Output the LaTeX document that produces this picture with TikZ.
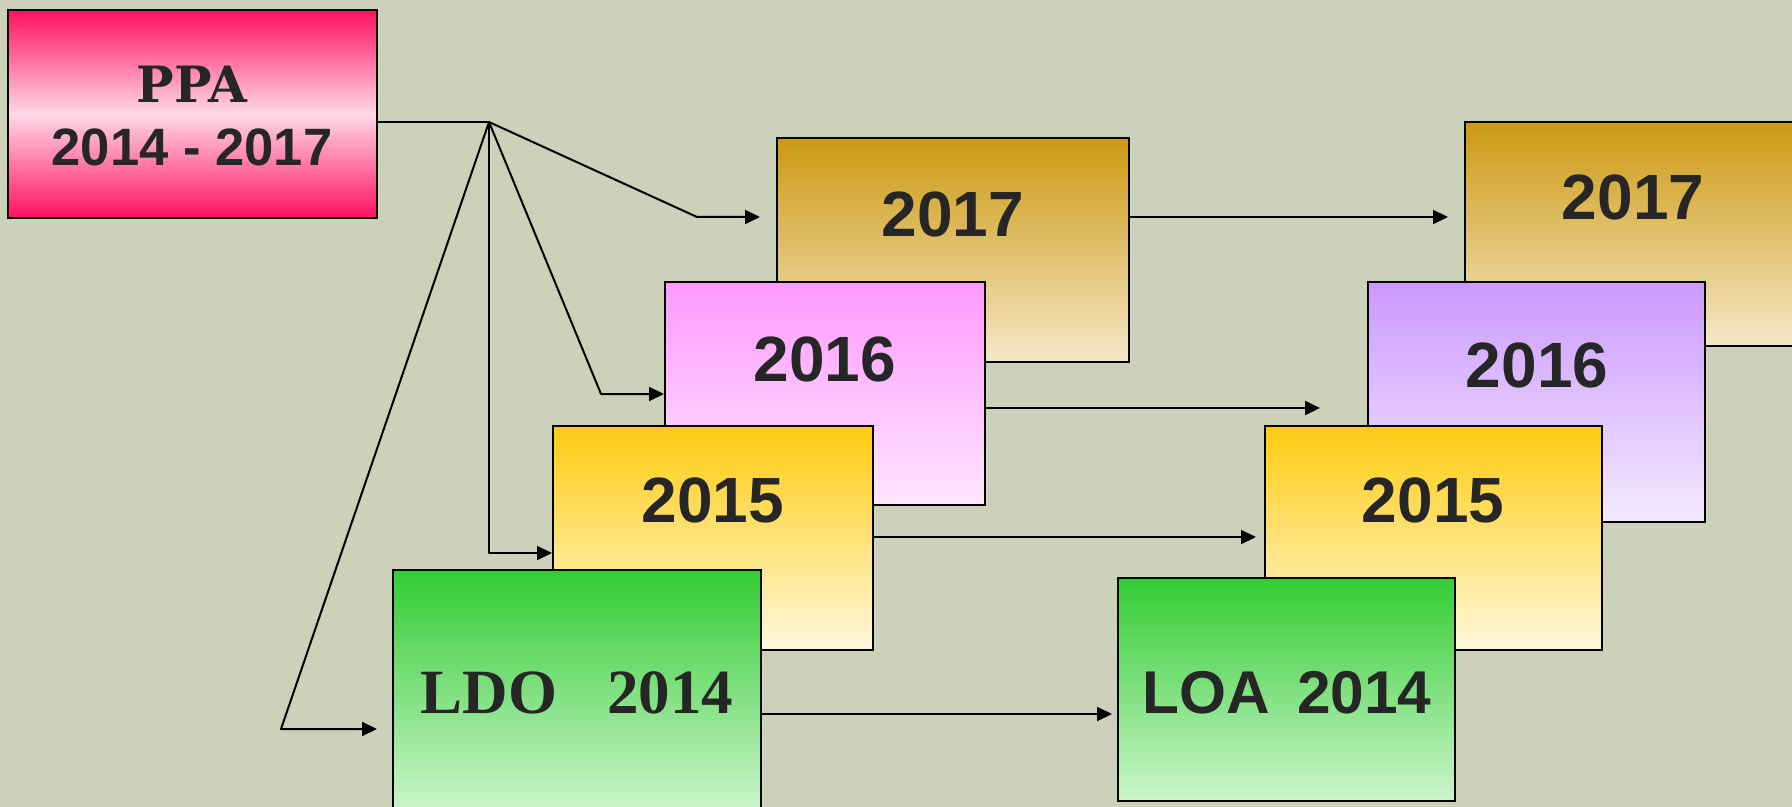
\documentclass[tikz,border=0pt]{standalone}
\usepackage{fontspec}
\setmainfont{Liberation Sans}
\newfontfamily\slabfont{DejaVu Serif}
\newfontfamily\timesfont{Liberation Serif}
\usetikzlibrary{arrows.meta,calc}
\definecolor{bg}{HTML}{CCD1B9}
\definecolor{txt}{HTML}{262626}
\definecolor{pinkdeep}{HTML}{FF1060}
\definecolor{pinklight}{HTML}{FFD9E6}
\definecolor{goldt}{HTML}{CC9911}
\definecolor{goldb}{HTML}{F5E8C8}
\definecolor{magt}{HTML}{FF99FF}
\definecolor{magb}{HTML}{FFE6FF}
\definecolor{lilt}{HTML}{CC99FF}
\definecolor{lilb}{HTML}{F3EAFF}
\definecolor{yelt}{HTML}{FFCC11}
\definecolor{yelb}{HTML}{FFF8DC}
\definecolor{grnt}{HTML}{33CC33}
\definecolor{grnb}{HTML}{CCF5CC}
\begin{document}
\begin{tikzpicture}[x=0.5pt,y=-0.5pt,
  box/.style={draw=black, line width=1pt, inner sep=0pt, shading=axis},
  year/.style={font=\bfseries\fontsize{32}{38}\selectfont, text=txt, inner sep=0pt},
  conn/.style={line width=1pt, line join=round},
  arr/.style={conn, -{Triangle[length=7.5pt,width=7pt]}}]
\useasboundingbox (0,0) rectangle (1792,807);
\fill[bg] (0,0) rectangle (1792,807);
\clip (0,0) rectangle (1792,807);

% PPA
\node[box, top color=pinkdeep, bottom color=pinkdeep, middle color=pinklight,
      minimum width=184.5pt, minimum height=104pt] (ppa) at (192.5,114) {};
\node[font=\slabfont\bfseries\fontsize{25}{30}\selectfont, text=txt, inner sep=0pt] (ppat) at (192,84) {PPA};
\node[font=\bfseries\fontsize{26.3}{30}\selectfont, text=txt, inner sep=0pt] (ppay) at (192,147) {2014 - 2017};

% hub and bend points
\coordinate (hub) at (489,122);
\coordinate (b17) at (697,217);
\coordinate (t17) at (760,217);
\coordinate (b16) at (601,394);
\coordinate (t16) at (664,394);
\coordinate (b15) at (489,553);
\coordinate (t15) at (552,553);
\coordinate (b14) at (281,729);
\coordinate (t14) at (377,729);

\draw[conn] (ppa.east |- hub) -- (hub);
\draw[arr] (hub) -- (b17) -- (t17);
\draw[arr] (hub) -- (b16) -- (t16);
\draw[arr] (hub) -- (b15) -- (t15);
\draw[arr] (hub) -- (b14) -- (t14);

% left stack
\node[box, top color=goldt, bottom color=goldb, minimum width=176pt, minimum height=112pt] (a17) at (953,250) {};
\node[year] (a17t) at (953,214) {2017};
\node[box, top color=magt, bottom color=magb, minimum width=160pt, minimum height=111.5pt] (a16) at (825,393.5) {};
\node[year] (a16t) at (825,359) {2016};
\node[box, top color=yelt, bottom color=yelb, minimum width=160pt, minimum height=112pt] (a15) at (713,538) {};
\node[year] (a15t) at (713,500) {2015};
\node[box, top color=grnt, bottom color=grnb, minimum width=184pt, minimum height=121pt] (ldo) at (577,691) {};
\node[font=\timesfont\bfseries\fontsize{31.5}{36}\selectfont, text=txt, inner sep=0pt] (ldot) at (577,693) {LDO\hspace{0.8em}2014};

% right stack
\node[box, top color=goldt, bottom color=goldb, minimum width=168pt, minimum height=112pt] (c17) at (1633,234) {};
\node[year] (c17t) at (1633,197) {2017};
\node[box, top color=lilt, bottom color=lilb, minimum width=168.5pt, minimum height=120pt] (c16) at (1536.5,402) {};
\node[year] (c16t) at (1537,365) {2016};
\node[box, top color=yelt, bottom color=yelb, minimum width=168.5pt, minimum height=112pt] (c15) at (1433.5,538) {};
\node[year] (c15t) at (1433,500) {2015};
\node[box, top color=grnt, bottom color=grnb, minimum width=168.5pt, minimum height=111.5pt] (loa) at (1286.5,689.5) {};
\node[font=\bfseries\fontsize{30.2}{36}\selectfont, text=txt, inner sep=0pt] (loat) at (1287,693) {LOA\hspace{0.45em}2014};

% arrows between stacks
\coordinate (r17) at (1448,217);
\coordinate (r16) at (1320,408);
\coordinate (r15) at (1256,537);
\coordinate (r14) at (1112,714);
\draw[arr] (a17.east |- r17) -- (r17);
\draw[arr] (a16.east |- r16) -- (r16);
\draw[arr] (a15.east |- r15) -- (r15);
\draw[arr] (ldo.east |- r14) -- (r14);
\end{tikzpicture}
\end{document}
